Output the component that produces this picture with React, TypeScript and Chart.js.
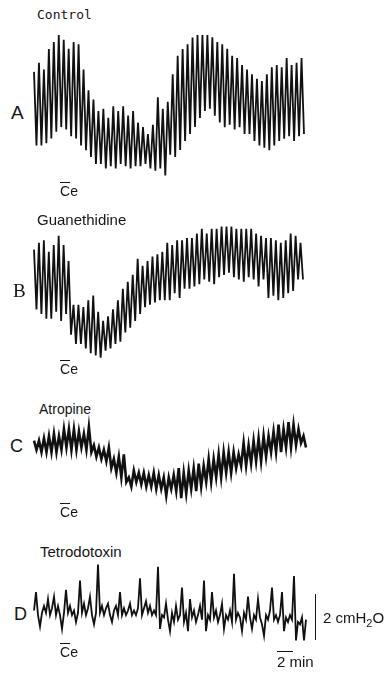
import React, { useEffect, useRef } from "react";
import { Chart, registerables } from "chart.js";

Chart.register(...registerables);

// Pressure traces, cmH2O above each trace's lowest point, sampled at equal time steps
const controlTrace = [
  4.7, 1.5, 5.1, 1.5, 4.8, 1.6, 5.7, 1.8, 6.0, 2.1, 6.3, 2.3, 6.1, 2.2, 5.7, 1.9, 6.0, 1.8, 5.9, 1.5,
  4.8, 1.3, 3.9, 1.0, 3.5, 0.7, 3.0, 0.7, 3.1, 0.5, 2.7, 0.6, 3.2, 0.5, 3.0, 0.7, 3.2, 0.6, 2.8, 0.5,
  3.0, 0.6, 2.5, 0.6, 2.3, 0.7, 2.0, 0.5, 2.4, 0.4, 3.6, 0.5, 3.1, 0.2, 3.4, 1.1, 4.6, 1.0, 5.4, 1.3,
  5.7, 1.7, 5.9, 2.0, 6.2, 2.3, 6.3, 2.7, 6.3, 3.0, 6.3, 3.1, 6.2, 2.8, 6.0, 2.5, 5.9, 2.3, 5.7, 2.4,
  5.4, 2.2, 5.3, 2.3, 5.0, 2.0, 4.8, 2.0, 4.6, 1.7, 4.4, 1.5, 4.3, 1.4, 4.6, 1.3, 4.9, 1.5, 5.0, 1.7,
  4.9, 1.8, 5.3, 1.9, 5.0, 1.7, 5.1, 1.9, 5.3, 2.0,
];

const guanethidineTrace = [
  4.8, 2.2, 5.1, 2.0, 5.2, 1.8, 4.7, 1.8, 5.0, 2.1, 5.4, 1.7, 5.0, 2.0, 4.3, 1.1, 2.4, 0.7, 2.4, 0.7,
  2.3, 0.5, 2.6, 0.3, 2.8, 0.2, 2.1, 0.1, 1.7, 0.4, 1.9, 0.5, 2.2, 0.7, 2.6, 0.8, 3.1, 1.2, 3.4, 1.4,
  3.7, 1.7, 4.4, 2.0, 4.1, 2.3, 4.3, 2.4, 4.5, 2.5, 4.6, 2.6, 4.7, 2.6, 5.1, 2.6, 5.0, 2.9, 5.2, 2.7,
  5.2, 3.1, 5.3, 3.1, 5.3, 3.2, 5.5, 3.3, 5.7, 3.5, 5.5, 3.4, 5.7, 3.3, 5.7, 3.6, 5.8, 3.7, 5.8, 3.8,
  5.8, 3.6, 5.7, 3.5, 5.7, 3.4, 5.7, 3.6, 5.7, 3.5, 5.5, 3.2, 5.4, 3.5, 5.3, 2.7, 5.3, 2.8, 5.2, 2.6,
  5.1, 2.7, 5.2, 2.9, 5.5, 3.0, 5.4, 3.5, 5.1, 3.5,
];

const atropineTrace = [
  2.8, 2.4, 2.8, 2.3, 2.9, 2.3, 3.0, 2.3, 3.1, 2.3, 3.0, 2.4, 3.3, 2.5, 3.3, 2.4, 3.3, 2.4, 3.2, 2.5,
  3.1, 2.4, 3.4, 2.3, 2.6, 2.1, 2.5, 2.0, 2.4, 1.9, 2.5, 1.6, 2.0, 1.4, 2.1, 1.2, 2.2, 1.0, 1.2, 0.8,
  1.5, 1.0, 1.4, 0.9, 1.4, 0.8, 1.3, 0.8, 1.4, 0.7, 1.3, 0.7, 1.2, 0.4, 1.2, 0.7, 1.3, 0.6, 1.6, 0.3,
  1.4, 0.5, 1.5, 0.7, 1.6, 0.6, 1.8, 0.8, 1.7, 1.0, 2.0, 1.0, 2.0, 1.2, 2.2, 1.2, 2.3, 1.4, 2.3, 1.4,
  2.3, 1.6, 2.2, 1.7, 2.7, 1.7, 2.6, 1.8, 2.8, 1.9, 2.9, 1.9, 3.0, 2.1, 3.0, 2.3, 3.2, 2.3, 3.5, 2.3,
  3.3, 2.5, 3.6, 2.5, 3.5, 2.6, 3.3, 2.7, 3.0, 2.5,
];

const tetrodotoxinTrace = [
  1.5, 2.3, 1.3, 0.8, 1.4, 1.7, 1.4, 2.0, 1.3, 1.6, 2.1, 1.3, 1.7, 1.3, 0.7, 1.4, 2.4, 1.4, 1.7, 1.3,
  1.5, 1.0, 1.4, 2.8, 1.4, 1.8, 1.3, 1.6, 2.1, 1.3, 0.9, 1.4, 3.5, 1.4, 1.7, 1.3, 1.6, 1.8, 1.3, 1.0,
  1.5, 1.7, 1.3, 2.3, 1.3, 1.6, 1.3, 1.5, 1.8, 1.3, 1.5, 1.3, 1.6, 2.9, 1.3, 1.6, 1.9, 1.4, 1.7, 1.3,
  1.5, 1.3, 3.4, 0.7, 1.3, 1.2, 1.8, 1.1, 0.6, 1.4, 1.0, 1.7, 1.1, 1.3, 2.5, 1.0, 1.4, 0.6, 2.0, 1.2,
  1.5, 1.0, 1.3, 1.7, 1.1, 2.8, 0.6, 1.3, 1.1, 2.3, 1.2, 1.5, 1.0, 1.3, 1.8, 0.7, 1.3, 1.1, 1.5, 1.0,
  3.1, 1.1, 1.4, 1.2, 0.6, 1.4, 1.1, 2.1, 1.2, 0.7, 1.3, 1.1, 2.0, 1.2, 0.9, 0.4, 1.3, 1.1, 1.5, 2.5,
  1.1, 1.3, 1.0, 1.3, 2.3, 0.6, 1.2, 1.0, 1.3, 1.1, 3.0, 0.2, 1.0, 0.9, 1.2, 0.2, 1.1,
];

const PX_PER_CMH2O = 23;
const M = 8;

type TraceProps = {
  data: number[];
  left: number;
  top: number;
  width: number;
  height: number;
  lineWidth: number;
};

function Trace({ data, left, top, width, height, lineWidth }: TraceProps) {
  const ref = useRef<HTMLCanvasElement>(null);
  useEffect(() => {
    const chart = new Chart(ref.current!, {
      type: "line",
      data: {
        labels: data.map((_, i) => String(i)),
        datasets: [
          {
            data,
            borderColor: "#111",
            borderWidth: lineWidth,
            pointRadius: 0,
            tension: 0,
            fill: false,
            clip: false as any,
          },
        ],
      },
      options: {
        animation: false,
        responsive: false,
        events: [],
        layout: { padding: M, autoPadding: false } as any,
        plugins: { legend: { display: false }, tooltip: { enabled: false }, title: { display: false } },
        scales: {
          x: { display: false },
          y: { display: false, min: 0, max: height / PX_PER_CMH2O },
        },
      },
    });
    return () => chart.destroy();
  }, []);
  const w = width + 2 * M;
  const h = height + 2 * M;
  return (
    <canvas
      ref={ref}
      width={w}
      height={h}
      style={{ position: "absolute", left: left - M, top: top - M, width: w, height: h }}
    />
  );
}

function Txt({ left, top, size, font, children, weight }: any) {
  return (
    <div
      style={{
        position: "absolute",
        left,
        top,
        fontSize: size,
        fontFamily: font,
        fontWeight: weight || "normal",
        lineHeight: 1,
        whiteSpace: "nowrap",
        color: "#151515",
      }}
    >
      {children}
    </div>
  );
}

const SANS = "'Liberation Sans', Arial, sans-serif";
const SERIF = "'Liberation Serif', 'Times New Roman', serif";
const MONO = "'DejaVu Sans Mono', monospace";

function Ce({ left, top }: { left: number; top: number }) {
  return (
    <Txt left={left} top={top} size={14} font={SANS}>
      <span style={{ textDecoration: "overline" }}>C</span>e
    </Txt>
  );
}

export default function App() {
  return (
    <div
      style={{
        position: "absolute",
        left: 0,
        top: 0,
        width: 389,
        height: 674,
        background: "#fff",
        overflow: "hidden",
      }}
    >
      <Txt left={37} top={8} size={13} font={MONO}>Control</Txt>
      <Txt left={11} top={103} size={19} font={SANS}>A</Txt>
      <Trace data={controlTrace} left={34} top={30} width={270} height={150} lineWidth={1.8} />
      <Ce left={60} top={184} />

      <Txt left={37} top={212} size={15} font={SANS}>Guanethidine</Txt>
      <Txt left={13} top={281} size={19} font={SERIF}>B</Txt>
      <Trace data={guanethidineTrace} left={34} top={220} width={269} height={140} lineWidth={1.8} />
      <Ce left={60} top={362} />

      <Txt left={39} top={402} size={14} font={SANS}>Atropine</Txt>
      <Txt left={10} top={437} size={18} font={SANS}>C</Txt>
      <Trace data={atropineTrace} left={34} top={415} width={272} height={90} lineWidth={2.6} />
      <Ce left={60} top={505} />

      <Txt left={40} top={544} size={15} font={SANS}>Tetrodotoxin</Txt>
      <Txt left={14} top={605} size={18} font={SANS}>D</Txt>
      <Trace data={tetrodotoxinTrace} left={34} top={560} width={272} height={85} lineWidth={1.8} />
      <Ce left={60} top={645} />

      <div
        style={{
          position: "absolute",
          left: 315,
          top: 594,
          width: 0,
          height: 2 * PX_PER_CMH2O,
          borderLeft: "1.6px solid #151515",
        }}
      />
      <Txt left={323} top={610} size={15} font={SANS}>
        2 cmH<span style={{ fontSize: 11, position: "relative", top: 4 }}>2</span>O
      </Txt>
      <div
        style={{
          position: "absolute",
          left: 277,
          top: 651,
          width: 16,
          height: 0,
          borderTop: "1px solid #151515",
        }}
      />
      <Txt left={277} top={654} size={15} font={SANS}>2 min</Txt>
    </div>
  );
}
